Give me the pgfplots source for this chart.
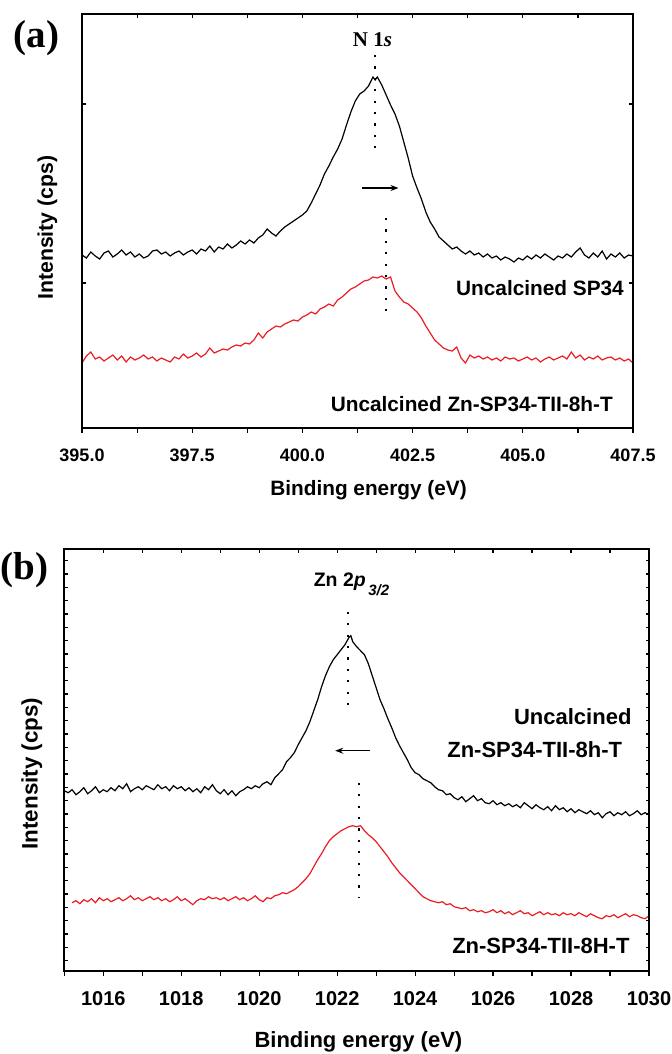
\documentclass[border=0pt]{standalone}
\usepackage{pgfplots}
\pgfplotsset{compat=1.18}
\usetikzlibrary{arrows.meta}
\usepackage{fontspec}
\setmainfont{Liberation Sans}
\newfontfamily\serifb{Liberation Serif}
\definecolor{xpsred}{RGB}{236,28,36}
\pgfplotsset{
  xpsframe/.style={scale only axis, axis line style={line width=0.9pt},
    every tick/.style={black, line width=0.6pt}},
  dotv/.style={black, line width=1pt, dash pattern=on 1.1pt off 4.6pt},
  curve/.style={line width=0.6pt, mark=none},
}
\begin{document}
\begin{tikzpicture}
\path[use as bounding box] (0,0) rectangle (336pt,-527pt);

\node[font=\serifb\bfseries\fontsize{19.5}{20}\selectfont, inner sep=0pt] at (18.25pt,-19.25pt) {(a)};
\node[font=\serifb\bfseries\fontsize{19.5}{20}\selectfont, inner sep=0pt] at (12.25pt,-285pt) {(b)};

% ---------------- panel (a) ----------------
\begin{axis}[xpsframe, at={(41pt,-7pt)}, anchor=north west, width=275.5pt, height=207pt,
  xmin=395, xmax=407.5, ymin=0, ymax=414,
  xtick={395,397.5,400,402.5,405,407.5},
  xticklabels={395.0,397.5,400.0,402.5,405.0,407.5},
  minor xtick={396.25,398.75,401.25,403.75,406.25},
  xtick pos=left, tick align=outside, ytick=\empty,
  major tick length=2.5pt, minor tick length=2.5pt,
  xticklabel style={font=\bfseries\fontsize{9}{10}\selectfont, yshift=-4.5pt},
  xlabel={Binding energy (eV)}, ylabel={Intensity (cps)},
  xlabel style={at={(axis description cs:0.52,-0.15)}, anchor=center, font=\bfseries\fontsize{10.4}{12}\selectfont},
  ylabel style={at={(axis description cs:-0.0626,0.484)}, anchor=center, font=\bfseries\fontsize{10.6}{12}\selectfont},
]
\addplot[curve, black] coordinates {
(395.0,173)(395.1,170)(395.2,176)(395.3,172)(395.4,169)(395.5,175)(395.6,177)(395.7,171)(395.8,174)(395.9,178)
(396.0,173)(396.1,176)(396.2,171)(396.3,174)(396.4,170)(396.5,172)(396.6,177)(396.7,178)(396.8,174)(396.9,176)
(397.0,172)(397.1,175)(397.2,177)(397.3,173)(397.4,176)(397.5,178)(397.6,174)(397.7,179)(397.8,177)(397.9,182)
(398.0,176)(398.1,181)(398.2,179)(398.3,184)(398.4,180)(398.5,183)(398.6,187)(398.7,184)(398.8,188)(398.9,185)
(399.0,190)(399.1,193)(399.2,199)(399.3,195)(399.4,192)(399.5,197)(399.6,201)(399.7,204)(399.8,207)(399.9,210)
(400.0,213)(400.1,217)(400.2,225)(400.3,234)(400.4,243)(400.5,254)(400.6,262)(400.7,271)(400.8,279)(400.9,289)
(401.0,303)(401.1,316)(401.2,327)(401.3,334)(401.4,337)(401.5,342)(401.6,351)(401.65,348)(401.7,351)(401.8,343)
(401.9,333)(402.0,323)(402.1,314)(402.2,302)(402.3,286)(402.4,270)(402.5,252)(402.6,240)(402.7,229)(402.8,216)
(402.9,206)(403.0,199)(403.1,191)(403.2,187)(403.3,183)(403.4,179)(403.5,181)(403.6,177)(403.7,174)(403.8,177)
(403.9,173)(404.0,175)(404.1,171)(404.2,174)(404.3,170)(404.4,172)(404.5,168)(404.6,171)(404.7,169)(404.8,166)
(404.9,170)(405.0,168)(405.1,172)(405.2,169)(405.3,173)(405.4,170)(405.5,174)(405.6,171)(405.7,168)(405.8,172)
(405.9,170)(406.0,174)(406.1,171)(406.2,176)(406.3,180)(406.4,173)(406.5,170)(406.6,175)(406.7,171)(406.8,177)
(406.9,169)(407.0,174)(407.1,171)(407.2,175)(407.3,170)(407.4,173)(407.5,172)
};
\addplot[curve, xpsred] coordinates {
(395.0,65)(395.1,72)(395.2,76)(395.3,69)(395.4,71)(395.5,67)(395.6,70)(395.7,73)(395.8,68)(395.9,72)
(396.0,66)(396.1,71)(396.2,68)(396.3,70)(396.4,73)(396.5,69)(396.6,71)(396.7,67)(396.8,70)(396.9,68)
(397.0,66)(397.1,71)(397.2,69)(397.3,74)(397.4,70)(397.5,72)(397.6,75)(397.7,71)(397.8,74)(397.9,80)
(398.0,75)(398.1,77)(398.2,79)(398.3,78)(398.4,81)(398.5,83)(398.6,82)(398.7,85)(398.8,84)(398.9,88)
(399.0,95)(399.1,90)(399.2,96)(399.3,99)(399.4,102)(399.5,101)(399.6,104)(399.7,106)(399.8,108)(399.9,107)
(400.0,111)(400.1,113)(400.2,116)(400.3,114)(400.4,119)(400.5,121)(400.6,124)(400.7,122)(400.8,128)(400.9,131)
(401.0,135)(401.1,139)(401.2,141)(401.3,144)(401.4,147)(401.5,148)(401.6,151)(401.7,150)(401.8,152)(401.9,149)
(402.0,151)(402.1,137)(402.2,131)(402.3,126)(402.4,124)(402.5,120)(402.6,116)(402.7,110)(402.8,102)(402.9,95)
(403.0,88)(403.1,84)(403.2,80)(403.3,78)(403.4,77)(403.5,81)(403.6,70)(403.7,65)(403.8,73)(403.9,70)
(404.0,72)(404.1,69)(404.2,71)(404.3,68)(404.4,70)(404.5,67)(404.6,71)(404.7,69)(404.8,70)(404.9,67)
(405.0,69)(405.1,71)(405.2,68)(405.3,70)(405.4,66)(405.5,69)(405.6,71)(405.7,68)(405.8,70)(405.9,72)
(406.0,69)(406.1,76)(406.2,70)(406.3,73)(406.4,68)(406.5,71)(406.6,69)(406.7,72)(406.8,68)(406.9,70)
(407.0,71)(407.1,68)(407.2,70)(407.3,67)(407.4,69)(407.5,65)
};
\addplot[dotv] coordinates {(401.65,373)(401.65,275)};
\addplot[dotv] coordinates {(401.89,210)(401.89,113)};
\addplot[black, line width=0.6pt, -{Stealth[length=4pt,width=3pt]}] coordinates {(401.35,240)(402.18,240)};
\node[font=\serifb\bfseries\fontsize{10.5}{12}\selectfont, inner sep=0pt] at (axis cs:401.59,388) {N 1\textit{s}};
\node[anchor=east, inner sep=0pt, font=\bfseries\fontsize{10.4}{12}\selectfont] at (axis cs:407.3,140) {Uncalcined SP34};
\node[anchor=east, inner sep=0pt, font=\bfseries\fontsize{10.4}{12}\selectfont] at (axis cs:407.05,24) {Uncalcined Zn-SP34-TII-8h-T};
\end{axis}
\begin{axis}[xpsframe, at={(41pt,-7pt)}, anchor=north west, width=275.5pt, height=207pt,
  xmin=395, xmax=407.5, ymin=0, ymax=414,
  xtick={395,397.5,400,402.5,405,407.5},
  minor xtick={396.25,398.75,401.25,403.75,406.25},
  xtick pos=right, tick align=inside, xticklabels={,,}, yticklabels={,,},
  ytick={145,324}, major tick length=2pt, minor tick length=2pt,
]
\end{axis}

% ---------------- panel (b) ----------------
\begin{axis}[xpsframe, at={(32.15pt,-274.65pt)}, anchor=north west, width=292.35pt, height=210.7pt,
  xmin=1015, xmax=1030, ymin=0, ymax=421.4,
  xtick={1016,1018,1020,1022,1024,1026,1028,1030},
  xticklabels={1016,1018,1020,1022,1024,1026,1028,1030},
  minor xtick={1015,1017,1019,1021,1023,1025,1027,1029},
  xtick pos=left, tick align=outside, ytick=\empty,
  major tick length=2.5pt, minor tick length=2.5pt,
  xticklabel style={font=\bfseries\fontsize{10}{11}\selectfont, yshift=-4.5pt},
  xlabel={Binding energy (eV)}, ylabel={Intensity (cps)},
  xlabel style={at={(axis description cs:0.503,-0.169)}, anchor=center, font=\bfseries\fontsize{11}{12}\selectfont},
  ylabel style={at={(axis description cs:-0.0557,0.468)}, anchor=center, font=\bfseries\fontsize{11.2}{12}\selectfont},
]
\addplot[curve, black] coordinates {
(1015.0,180)(1015.1,178)(1015.2,181)(1015.3,176)(1015.4,179)(1015.5,183)(1015.6,177)(1015.7,180)(1015.8,184)(1015.9,178)
(1016.0,181)(1016.1,179)(1016.2,183)(1016.3,180)(1016.4,185)(1016.5,182)(1016.6,187)(1016.7,179)(1016.8,182)(1016.9,184)
(1017.0,181)(1017.1,185)(1017.2,183)(1017.3,181)(1017.4,186)(1017.5,182)(1017.6,184)(1017.7,180)(1017.8,185)(1017.9,182)
(1018.0,184)(1018.1,180)(1018.2,183)(1018.3,179)(1018.4,182)(1018.5,178)(1018.6,184)(1018.7,181)(1018.8,186)(1018.9,180)
(1019.0,177)(1019.1,181)(1019.2,176)(1019.3,180)(1019.4,175)(1019.5,179)(1019.6,181)(1019.7,184)(1019.8,182)(1019.9,185)
(1020.0,183)(1020.1,187)(1020.2,189)(1020.3,186)(1020.4,193)(1020.5,197)(1020.6,201)(1020.7,209)(1020.8,213)(1020.9,218)
(1021.0,226)(1021.1,233)(1021.2,240)(1021.3,249)(1021.4,260)(1021.5,271)(1021.6,284)(1021.7,295)(1021.8,304)(1021.9,311)
(1022.0,316)(1022.1,321)(1022.2,326)(1022.3,333)(1022.35,335)(1022.4,329)(1022.5,324)(1022.6,320)(1022.7,316)(1022.8,307)
(1022.9,295)(1023.0,283)(1023.1,271)(1023.2,262)(1023.3,252)(1023.4,243)(1023.5,233)(1023.6,225)(1023.7,218)(1023.8,211)
(1023.9,203)(1024.0,198)(1024.1,196)(1024.2,192)(1024.3,190)(1024.4,188)(1024.5,184)(1024.6,181)(1024.7,180)(1024.8,176)
(1024.9,177)(1025.0,173)(1025.1,171)(1025.2,174)(1025.3,169)(1025.4,172)(1025.5,175)(1025.6,170)(1025.7,172)(1025.8,168)
(1025.9,167)(1026.0,170)(1026.1,166)(1026.2,168)(1026.3,165)(1026.4,167)(1026.5,164)(1026.6,166)(1026.7,163)(1026.8,168)
(1026.9,165)(1027.0,162)(1027.1,166)(1027.2,163)(1027.3,161)(1027.4,164)(1027.5,160)(1027.6,165)(1027.7,161)(1027.8,163)
(1027.9,159)(1028.0,162)(1028.1,158)(1028.2,161)(1028.3,159)(1028.4,157)(1028.5,160)(1028.6,156)(1028.7,158)(1028.8,153)
(1028.9,157)(1029.0,159)(1029.1,155)(1029.2,158)(1029.3,156)(1029.4,159)(1029.5,155)(1029.6,157)(1029.7,160)(1029.8,156)
(1029.9,158)(1030.0,156)
};
\addplot[curve, xpsred] coordinates {
(1015.2,68)(1015.3,70)(1015.4,67)(1015.5,71)(1015.6,69)(1015.7,72)(1015.8,68)(1015.9,73)
(1016.0,70)(1016.1,72)(1016.2,69)(1016.3,71)(1016.4,73)(1016.5,70)(1016.6,72)(1016.7,75)(1016.8,71)(1016.9,73)
(1017.0,70)(1017.1,72)(1017.2,74)(1017.3,71)(1017.4,73)(1017.5,70)(1017.6,72)(1017.7,69)(1017.8,71)(1017.9,74)
(1018.0,70)(1018.1,72)(1018.2,69)(1018.3,66)(1018.4,70)(1018.5,72)(1018.6,71)(1018.7,74)(1018.8,72)(1018.9,73)
(1019.0,71)(1019.1,73)(1019.2,70)(1019.3,72)(1019.4,74)(1019.5,71)(1019.6,73)(1019.7,70)(1019.8,72)(1019.9,75)
(1020.0,71)(1020.1,69)(1020.2,73)(1020.3,72)(1020.4,75)(1020.5,76)(1020.6,78)(1020.7,77)(1020.8,79)(1020.9,81)
(1021.0,84)(1021.1,88)(1021.2,92)(1021.3,97)(1021.4,104)(1021.5,111)(1021.6,117)(1021.7,124)(1021.8,130)(1021.9,134)
(1022.0,137)(1022.1,140)(1022.2,142)(1022.3,144)(1022.4,145)(1022.5,144)(1022.6,145)(1022.7,140)(1022.8,136)(1022.9,133)
(1023.0,129)(1023.1,124)(1023.2,119)(1023.3,114)(1023.4,108)(1023.5,103)(1023.6,98)(1023.7,94)(1023.8,90)(1023.9,86)
(1024.0,82)(1024.1,78)(1024.2,74)(1024.3,72)(1024.4,70)(1024.5,69)(1024.6,68)(1024.7,69)(1024.8,66)(1024.9,67)
(1025.0,64)(1025.1,63)(1025.2,62)(1025.3,63)(1025.4,60)(1025.5,61)(1025.6,59)(1025.7,60)(1025.8,58)(1025.9,59)
(1026.0,61)(1026.1,58)(1026.2,60)(1026.3,57)(1026.4,59)(1026.5,56)(1026.6,58)(1026.7,60)(1026.8,57)(1026.9,58)
(1027.0,55)(1027.1,57)(1027.2,59)(1027.3,56)(1027.4,58)(1027.5,56)(1027.6,57)(1027.7,55)(1027.8,58)(1027.9,56)
(1028.0,57)(1028.1,55)(1028.2,58)(1028.3,56)(1028.4,54)(1028.5,57)(1028.6,55)(1028.7,53)(1028.8,52)(1028.9,55)
(1029.0,54)(1029.1,56)(1029.2,53)(1029.3,55)(1029.4,57)(1029.5,54)(1029.6,56)(1029.7,55)(1029.8,53)(1029.9,52)
(1030.0,55)
};
\addplot[dotv] coordinates {(1022.27,359)(1022.27,261)};
\addplot[dotv] coordinates {(1022.56,188)(1022.56,73)};
\addplot[black, line width=0.6pt, -{Stealth[length=4pt,width=3pt]}] coordinates {(1022.84,220)(1021.95,220)};
\node[anchor=base west, inner sep=0pt, font=\bfseries\fontsize{9.75}{11}\selectfont] at (axis cs:1021.39,384)
  {Zn 2\textit{p}\raisebox{-4.5pt}{\fontsize{7.5}{8}\selectfont\itshape\,3/2}};
\node[anchor=east, inner sep=0pt, font=\bfseries\fontsize{11}{12}\selectfont] at (axis cs:1029.56,254) {Uncalcined};
\node[anchor=east, inner sep=0pt, font=\bfseries\fontsize{11}{12}\selectfont] at (axis cs:1029.32,221) {Zn-SP34-TII-8h-T};
\node[anchor=east, inner sep=0pt, font=\bfseries\fontsize{11}{12}\selectfont] at (axis cs:1029.51,25) {Zn-SP34-TII-8H-T};
\end{axis}
\begin{axis}[xpsframe, at={(32.15pt,-274.65pt)}, anchor=north west, width=292.35pt, height=210.7pt,
  xmin=1015, xmax=1030, ymin=0, ymax=421.4,
  xtick={1016,1018,1020,1022,1024,1026,1028,1030},
  minor xtick={1015,1017,1019,1021,1023,1025,1027,1029},
  xtick pos=right, tick align=inside, xticklabels={,,}, yticklabels={,,},
  ytick={10,23.3,36.7,50,63.3,76.7,90,103.3,116.7,130,143.3,156.7,170,183.3,196.7,210,223.3,236.7,250,263.3,276.7,290,303.3,316.7,330,343.3,356.7,370,383.3,396.7,410},
  major tick length=1.6pt, minor tick length=1.6pt,
]
\end{axis}
\end{tikzpicture}
\end{document}
